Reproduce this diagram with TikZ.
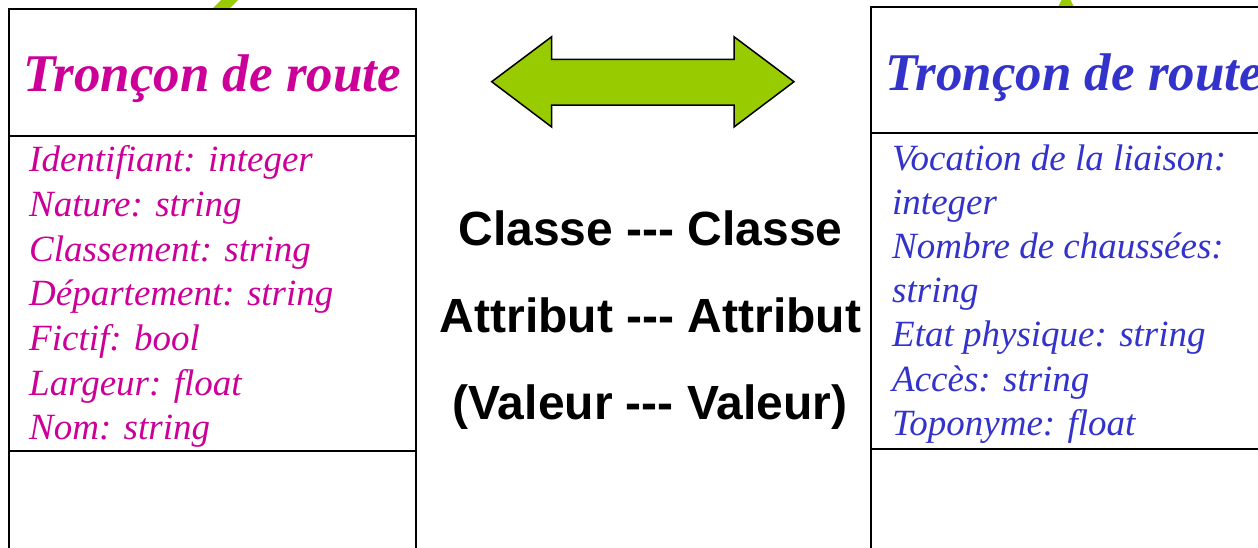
\documentclass[tikz,border=0pt]{standalone}
\usepackage{fontspec}
\setmainfont{Liberation Serif}
\setsansfont{Liberation Sans}
\definecolor{classmagenta}{RGB}{204,0,153}
\definecolor{classblue}{RGB}{51,51,204}
\definecolor{arrowgreen}{RGB}{153,204,0}
\newcommand{\dashes}{-{}-{}-}
\tikzset{
  compart/.style={draw=black, line width=1.6pt, fill=white, rectangle,
    anchor=north west, inner sep=0pt, outer sep=0pt},
  classtitle/.style={font=\fontsize{53}{60}\selectfont\bfseries\itshape,
    anchor=base west, inner sep=0pt},
  attr/.style={font=\fontsize{37}{44}\selectfont\itshape,
    anchor=base west, inner sep=0pt},
  linktext/.style={font=\fontsize{48}{56}\selectfont\sffamily\bfseries,
    anchor=base, inner sep=0pt},
  greenshape/.style={fill=arrowgreen, draw=black, line width=1.5pt, line join=miter}
}
\begin{document}
\begin{tikzpicture}[x=1pt, y=-1pt]
\useasboundingbox (0,0) rectangle (1258,547);
\clip (0,0) rectangle (1258,547);
\fill[white] (0,0) rectangle (1258,547);

% ends of connectors coming from above, hidden behind the classes
\fill[arrowgreen] (210,11) -- (222,-1) -- (239,-1) -- (227,11) -- cycle;
\fill[arrowgreen] (1057,9) -- (1062,-1) -- (1070,-1) -- (1075,9) -- cycle;

% left class: three compartments
\node[compart, minimum width=407pt, minimum height=127pt] (lname) at (9,9) {};
\node[compart, minimum width=407pt, minimum height=315pt] (lattr) at (9,136) {};
\node[compart, minimum width=407pt, minimum height=120pt] (lops) at (9,451) {};

% right class: three compartments
\node[compart, minimum width=420pt, minimum height=126pt] (rname) at (871,7) {};
\node[compart, minimum width=420pt, minimum height=316pt] (rattr) at (871,133) {};
\node[compart, minimum width=420pt, minimum height=120pt] (rops) at (871,449) {};

% class names
\node[classtitle, text=classmagenta] (ltitle) at (23,91) {Tronçon de route};
\node[classtitle, text=classblue] (rtitle) at (885,90) {Tronçon de route};

% attributes
\foreach \t [count=\i] in {Identifiant: integer, Nature: string,
    Classement: string, Département: string, Fictif: bool,
    Largeur: float, Nom: string}
  \node[attr, text=classmagenta, name=la\i] at (29,{171.7+44.7*(\i-1)}) {\t};
\foreach \t [count=\i] in {Vocation de la liaison:, integer,
    Nombre de chaussées:, string, Etat physique: string,
    Accès: string, Toponyme: float}
  \node[attr, text=classblue, name=ra\i] at (892,{170+44.2*(\i-1)}) {\t};

% correspondence arrow
\path[greenshape] (491.7,81.7) -- (551.7,36.7) -- (551.7,59.3) -- (734,59.3)
  -- (734,36.7) -- (794,81.7) -- (734,127) -- (734,105) -- (551.7,105)
  -- (551.7,127) -- cycle;

% matching levels
\node[linktext] (lk1) at (650.5,245) {Classe \dashes{} Classe};
\node[linktext] (lk2) at (650.5,332) {Attribut \dashes{} Attribut};
\node[linktext] (lk3) at (650,419) {(Valeur \dashes{} Valeur)};
\end{tikzpicture}
\end{document}
